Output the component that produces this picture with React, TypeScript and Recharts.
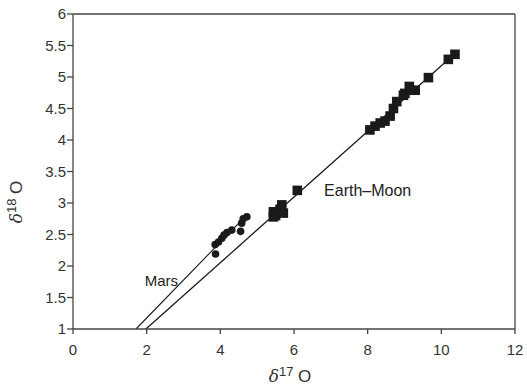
import React from 'react'
import { ComposedChart, Scatter, XAxis, YAxis, ReferenceLine, ReferenceDot } from 'recharts'

const xTicks = [0, 2, 4, 6, 8, 10, 12]
const yTicks = [1, 1.5, 2, 2.5, 3, 3.5, 4, 4.5, 5, 5.5, 6]

// Mars samples (circles)
const marsX = [3.87, 3.86, 3.95, 4.04, 4.1, 4.18, 4.31, 4.55, 4.58, 4.62, 4.72]
const marsY = [2.19, 2.34, 2.38, 2.44, 2.49, 2.53, 2.57, 2.55, 2.68, 2.75, 2.78]

// Earth-Moon samples (squares)
const emX = [5.44, 5.44, 5.5, 5.67, 5.71, 5.62, 6.09, 8.06, 8.2, 8.34, 8.47, 8.61, 8.7, 8.79, 8.97, 9.01, 9.15, 9.13, 9.29, 9.65, 10.19, 10.37]
const emY = [2.78, 2.86, 2.8, 2.97, 2.84, 2.9, 3.2, 4.16, 4.22, 4.27, 4.3, 4.38, 4.5, 4.61, 4.71, 4.74, 4.79, 4.85, 4.79, 4.99, 5.28, 5.36]

// fractionation lines (end points)
const marsLine = [{ x: 1.71, y: 1 }, { x: 4.7, y: 2.8 }]
const earthMoonLine = [{ x: 1.98, y: 1 }, { x: 10.35, y: 5.36 }]

const marsData = marsX.map((x, i) => ({ x, y: marsY[i] }))
const emData = emX.map((x, i) => ({ x, y: emY[i] }))

const font = 'Liberation Sans, Arial, Helvetica, sans-serif'
const axisColor = '#444'
const ink = '#1a1a1a'

const Dot = (p: any) => <circle cx={p.cx} cy={p.cy} r={3.8} fill={ink} />
const Square = (p: any) => <rect x={p.cx - 4.8} y={p.cy - 4.8} width={9.6} height={9.6} fill={ink} />

const XLabel = (props: any) => {
    const { x, y, width, height } = props.viewBox
    return (
        <text x={x + width / 2 - 4} y={y + height - 4} textAnchor='middle' fill='#333' fontSize={17} fontFamily={font}>
            <tspan fontStyle='italic' fontFamily='DejaVu Serif, serif'>δ</tspan>
            <tspan dy={-6} fontSize={13}>17</tspan>
            <tspan dy={6}> O</tspan>
        </text>
    )
}

const YLabel = () => {
    const cx = 22
    const cy = 202
    return (
        <text x={cx} y={cy} textAnchor='middle' fill='#333' fontSize={17} fontFamily={font} transform={`rotate(-90 ${cx} ${cy})`}>
            <tspan fontStyle='italic' fontFamily='DejaVu Serif, serif'>δ</tspan>
            <tspan dy={-6} fontSize={13}>18</tspan>
            <tspan dy={6}> O</tspan>
        </text>
    )
}

const App: React.FC = () => {
    return (
        <div style={{ position: 'absolute', left: 0, top: 0 }}>
            <ComposedChart width={527} height={386} margin={{ top: 14, right: 12, bottom: 0, left: 0 }}>
                <XAxis
                    dataKey='x'
                    type='number'
                    domain={[0, 12]}
                    ticks={xTicks}
                    allowDataOverflow
                    height={57}
                    stroke={axisColor}
                    strokeWidth={1.3}
                    tickSize={5}
                    tickMargin={10}
                    tick={{ fill: '#333', fontSize: 15, fontFamily: font }}
                    label={<XLabel />}
                />
                <YAxis
                    dataKey='y'
                    type='number'
                    domain={[1, 6]}
                    ticks={yTicks}
                    allowDataOverflow
                    width={73}
                    stroke={axisColor}
                    strokeWidth={1.3}
                    tickSize={6}
                    tickMargin={1}
                    tick={{ fill: '#333', fontSize: 15, fontFamily: font }}
                    label={<YLabel />}
                />
                <ReferenceLine y={6} stroke={axisColor} strokeWidth={1.3} />
                <ReferenceLine x={12} stroke={axisColor} strokeWidth={1.3} />
                <ReferenceLine segment={marsLine} stroke={ink} strokeWidth={1.1} />
                <ReferenceLine segment={earthMoonLine} stroke={ink} strokeWidth={1.3} />
                <Scatter data={marsData} shape={<Dot />} isAnimationActive={false} />
                <Scatter data={emData} shape={<Square />} isAnimationActive={false} />
                <ReferenceDot x={2.4} y={1.76} r={0} fill='none' stroke='none'
                    label={{ value: 'Mars', position: 'center', fill: '#222', fontSize: 15, fontFamily: font }} />
                <ReferenceDot x={8.0} y={3.2} r={0} fill='none' stroke='none'
                    label={{ value: 'Earth–Moon', position: 'center', fill: '#222', fontSize: 16, fontFamily: font }} />
            </ComposedChart>
        </div>
    )
}

export default App
